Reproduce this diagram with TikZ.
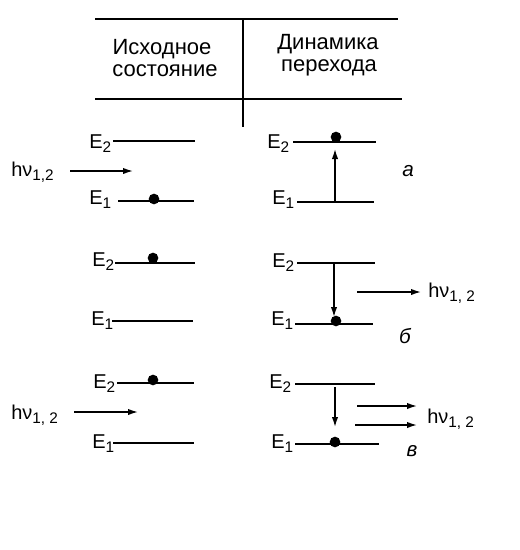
\documentclass[tikz,border=0pt]{standalone}
\usepackage{fontspec}
\setmainfont{Liberation Sans}
\usetikzlibrary{arrows.meta}
\newcommand\lsub[1]{\raisebox{-0.2em}{\fontsize{11.5}{12}\selectfont #1}}
\begin{document}
\begin{tikzpicture}[x=0.75pt,y=-0.75pt,
  lvl/.style={line width=1.1pt},
  arr/.style={line width=1.1pt,-{Latex[length=7.5pt,width=4.8pt]}},
  lbl/.style={inner sep=0pt,anchor=base west,font=\fontsize{15}{17}\selectfont},
  hd/.style={inner sep=0pt,anchor=base,font=\fontsize{16.5}{19}\selectfont},
  tag/.style={inner sep=0pt,font=\fontsize{15.5}{17}\selectfont\itshape},
  dot/.style={circle,fill=black,inner sep=0pt,minimum size=8pt}]
\useasboundingbox (0,0) rectangle (520,550);
% table
\coordinate (t1) at (95,19); \coordinate (t2) at (398,19);
\coordinate (m1) at (95,99); \coordinate (m2) at (402,99);
\coordinate (v1) at (243,19); \coordinate (v2) at (243,127);
\draw[lvl] (t1) -- (t2);
\draw[lvl] (m1) -- (m2);
\draw[lvl] (v1) -- (v2);
\node[hd] (h1a) at (162,54) {Исходное};
\node[hd] (h1b) at (165,76) {состояние};
\node[hd] (h2a) at (328,49) {Динамика};
\node[hd] (h2b) at (329,71) {перехода};
% ---- row a
\node[lbl] (aL2t) at (89,148) {E\lsub{2}};
\node[lbl] (aL1t) at (89,204) {E\lsub{1}};
\node[lbl] (aR2t) at (267,148) {E\lsub{2}};
\node[lbl] (aR1t) at (272,204) {E\lsub{1}};
\node[lbl] (aPt) at (11,176) {hν\lsub{1,2}};
\coordinate (aL2a) at (113,141); \coordinate (aL2b) at (195,141);
\coordinate (aL1a) at (118,201); \coordinate (aL1b) at (194,201);
\coordinate (aR2a) at (293,142); \coordinate (aR2b) at (376,142);
\coordinate (aR1a) at (297,202); \coordinate (aR1b) at (374,202);
\draw[lvl] (aL2a) -- (aL2b);
\draw[lvl] (aL1a) -- (aL1b);
\draw[lvl] (aR2a) -- (aR2b);
\draw[lvl] (aR1a) -- (aR1b);
\node[dot] (aLd) at (154,199) {};
\node[dot] (aRd) at (336,137) {};
\coordinate (aPa) at (70,171); \coordinate (aPb) at (133,171);
\draw[arr] (aPa) -- (aPb);
\coordinate (aUa) at (335,202); \coordinate (aUb) at (335,149);
\draw[arr] (aUa) -- (aUb);
\node[tag] (aTag) at (408,171) {а};
% ---- row b
\node[lbl] (bL2t) at (92,266) {E\lsub{2}};
\node[lbl] (bL1t) at (91,325) {E\lsub{1}};
\node[lbl] (bR2t) at (272,267) {E\lsub{2}};
\node[lbl] (bR1t) at (271,325) {E\lsub{1}};
\node[lbl] (bPt) at (428,297) {hν\lsub{1, 2}};
\coordinate (bL2a) at (115,263); \coordinate (bL2b) at (195,263);
\coordinate (bL1a) at (112,321); \coordinate (bL1b) at (193,321);
\coordinate (bR2a) at (297,263); \coordinate (bR2b) at (375,263);
\coordinate (bR1a) at (295,324); \coordinate (bR1b) at (373,324);
\draw[lvl] (bL2a) -- (bL2b);
\draw[lvl] (bL1a) -- (bL1b);
\draw[lvl] (bR2a) -- (bR2b);
\draw[lvl] (bR1a) -- (bR1b);
\node[dot] (bLd) at (153,258) {};
\node[dot] (bRd) at (336,321) {};
\coordinate (bDa) at (334,263); \coordinate (bDb) at (334,317);
\draw[arr] (bDa) -- (bDb);
\coordinate (bPa) at (357,292); \coordinate (bPb) at (421,292);
\draw[arr] (bPa) -- (bPb);
\node[tag] (bTag) at (405,336) {б};
% ---- row c
\node[lbl] (cL2t) at (93,388) {E\lsub{2}};
\node[lbl] (cL1t) at (92,448) {E\lsub{1}};
\node[lbl] (cR2t) at (269,388) {E\lsub{2}};
\node[lbl] (cR1t) at (271,448) {E\lsub{1}};
\node[lbl] (cPt) at (11,419) {hν\lsub{1, 2}};
\node[lbl] (cQt) at (427,423) {hν\lsub{1, 2}};
\coordinate (cL2a) at (117,383); \coordinate (cL2b) at (194,383);
\coordinate (cL1a) at (113,443); \coordinate (cL1b) at (194,443);
\coordinate (cR2a) at (295,384); \coordinate (cR2b) at (375,384);
\coordinate (cR1a) at (295,444); \coordinate (cR1b) at (379,444);
\draw[lvl] (cL2a) -- (cL2b);
\draw[lvl] (cL1a) -- (cL1b);
\draw[lvl] (cR2a) -- (cR2b);
\draw[lvl] (cR1a) -- (cR1b);
\node[dot] (cLd) at (153,380) {};
\node[dot] (cRd) at (335,442) {};
\coordinate (cPa) at (74,412); \coordinate (cPb) at (138,412);
\draw[arr] (cPa) -- (cPb);
\coordinate (cDa) at (335,387); \coordinate (cDb) at (335,427);
\draw[arr] (cDa) -- (cDb);
\coordinate (cQa) at (357,406); \coordinate (cQb) at (417,406);
\draw[arr] (cQa) -- (cQb);
\coordinate (cRa) at (355,425); \coordinate (cRb) at (417,425);
\draw[arr] (cRa) -- (cRb);
\node[tag] (cTag) at (412,451) {в};
\end{tikzpicture}
\end{document}
